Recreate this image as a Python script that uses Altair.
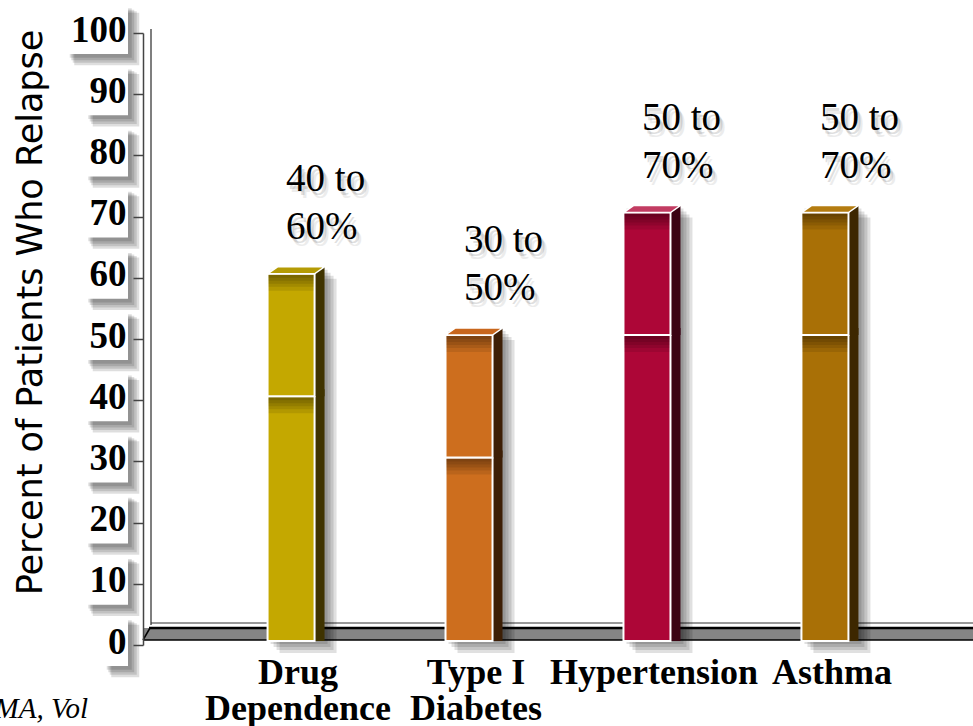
import altair as alt
import pandas as pd

# ---- data -------------------------------------------------------------
categories = ["Drug\nDependence", "Type I\nDiabetes", "Hypertension", "Asthma"]
relapse_low = [40, 30, 50, 50]
relapse_high = [60, 50, 70, 70]
axis_ticks = [0, 10, 20, 30, 40, 50, 60, 70, 80, 90, 100]

# ---- palette (front, side and top faces of each block) ----------------
front_colors = ["#C4A800", "#CD6E1E", "#AD0637", "#A97006"]
side_colors = ["#3F3300", "#3D1F06", "#3A0313", "#3D2700"]
top_colors = ["#B49B04", "#C8661C", "#C23C62", "#B47C10"]

W, H = 830, 612
BAR_W = 47
DEPTH_X, DEPTH_Y = 10, 7
LIFT = -4

bars = pd.DataFrame({"cat": categories, "low": relapse_low, "high": relapse_high})
ticks = pd.DataFrame({"v": axis_ticks})
blank = pd.DataFrame({"k": [0]})

x_scale = alt.Scale(domain=categories, paddingInner=0.736, paddingOuter=0.70)
y_scale = alt.Scale(domain=[0, 100], nice=False)

x_axis = alt.Axis(
    title=None, domain=False, ticks=False, labelAngle=0, labelLimit=0,
    labelFont="Liberation Serif", labelFontWeight="bold", labelFontSize=36,
    labelColor="black", labelPadding=10, labelOffset=7, labelLineHeight=36,
    labelExpr="split(datum.label, '\\n')",
)
y_axis = alt.Axis(
    title="Percent of Patients Who Relapse", values=axis_ticks, grid=False,
    domainColor="#444", domainWidth=1.5, tickColor="#444", tickWidth=1.5, tickSize=10,
    labelFont="Liberation Serif", labelFontWeight="bold", labelFontSize=37,
    labelColor="black", labelPadding=7, labelOffset=-3,
    titleFont="DejaVu Sans", titleFontSize=35, titleFontWeight="normal",
    titleColor="black", titleX=-102, titleY=279, titleAngle=270,
    titleAlign="center", titleBaseline="alphabetic", zindex=1,
)


def X():
    return alt.X("cat:N", scale=x_scale, axis=x_axis, sort=categories)


def Y(field):
    return alt.Y(f"{field}:Q", scale=y_scale, axis=y_axis)


def palette(colors):
    return alt.Color("cat:N", scale=alt.Scale(domain=categories, range=colors), legend=None)


layers = []

# ---- white boxes with soft drop shadows behind the y tick labels -------
for n in (1, 2, 3):
    w = 18.5 * n + 5
    cx = -15 - w / 2
    base = alt.Chart(ticks).transform_filter(f"length(toString(datum.v)) == {n}")
    for d in (3, 5, 7, 9):
        layers.append(base.mark_tick(orient="horizontal", thickness=48 + d / 2,
                                     color="black", opacity=0.13, yOffset=-3 + d).encode(
            x=alt.value(cx + d), y=Y("v"), size=alt.value(w + d / 2)))
    layers.append(base.mark_tick(orient="horizontal", thickness=48, color="white",
                                 opacity=1, yOffset=-3).encode(
        x=alt.value(cx), y=Y("v"), size=alt.value(w)))

# ---- back wall and floor ------------------------------------------------
deco = alt.Chart(blank)
layers += [
    deco.mark_rule(color="#555", strokeWidth=1.5).encode(
        x=alt.value(8), y=alt.value(-4), y2=alt.value(592)),
    deco.mark_rule(color="#333", strokeWidth=1).encode(
        x=alt.value(8), x2=alt.value(W), y=alt.value(590)),
    deco.mark_rect(color="#858585").encode(
        x=alt.value(0), x2=alt.value(W), y=alt.value(595), y2=alt.value(607)),
    deco.mark_rule(color="black", strokeWidth=2.5).encode(
        x=alt.value(6), x2=alt.value(W), y=alt.value(595)),
    deco.mark_rule(color="black", strokeWidth=1.5).encode(
        x=alt.value(0), x2=alt.value(W), y=alt.value(607)),
    deco.mark_rule(color="black", strokeWidth=1.5).encode(
        x=alt.value(0), x2=alt.value(7), y=alt.value(607), y2=alt.value(595)),
]

# ---- bars ---------------------------------------------------------------
bc = alt.Chart(bars)

# drop shadow of each full column
for d in (3, 6, 9, 12):
    layers.append(bc.mark_bar(width=BAR_W + DEPTH_X, xOffset=DEPTH_X / 2 + d,
                              yOffset=LIFT - DEPTH_Y + d, y2Offset=LIFT + d,
                              color="black", opacity=0.12).encode(
        x=X(), y=Y("high"), y2=alt.datum(0)))


def block(lo, hi):
    out = []
    # side face
    out.append(bc.mark_bar(width=DEPTH_X, xOffset=BAR_W / 2 + DEPTH_X / 2,
                           yOffset=LIFT - DEPTH_Y, y2Offset=LIFT).encode(
        x=X(), y=Y(hi), y2=(alt.datum(0) if lo is None else alt.Y2(f"{lo}:Q")),
        color=palette(side_colors)))
    # front face
    out.append(bc.mark_bar(width=BAR_W, yOffset=LIFT, y2Offset=LIFT,
                           stroke="white", strokeWidth=2).encode(
        x=X(), y=Y(hi), y2=(alt.datum(0) if lo is None else alt.Y2(f"{lo}:Q")),
        color=palette(front_colors)))
    # soft shading just under the block's top edge
    for t in (3, 6, 9, 12, 16):
        out.append(bc.mark_tick(orient="horizontal", thickness=t, color="black",
                                opacity=0.09, yOffset=LIFT + t / 2 + 1).encode(
            x=X(), y=Y(hi), size=alt.value(BAR_W - 2)))
    return out


layers += block(None, "low")
layers += block("low", "high")

# top face of each column
top_face = f"M -{BAR_W/2} 0 L {BAR_W/2} 0 L {BAR_W/2 + DEPTH_X} -{DEPTH_Y} L {-BAR_W/2 + DEPTH_X} -{DEPTH_Y} Z"
layers.append(bc.mark_point(shape=top_face, size=4, filled=True, opacity=1,
                            stroke="white", strokeWidth=1.5, yOffset=LIFT).encode(
    x=X(), y=Y("high"), color=palette(top_colors)))

# ---- range labels above the columns -------------------------------------
lab = bc.transform_calculate(label="datum.low + ' to\\n' + datum.high + '%'")
text_style = dict(font="Liberation Serif", fontSize=39, align="left", baseline="alphabetic",
                  lineBreak="\n", lineHeight=48)
TEXT_DY = -87
for dx, dy, op in ((3, 4, 0.12), (5, 7, 0.07)):
    layers.append(lab.mark_text(color="black", opacity=op, dx=-5 + dx, dy=TEXT_DY + dy,
                                **text_style).encode(x=X(), y=Y("high"), text="label:N"))
layers.append(lab.mark_text(color="black", dx=-5, dy=TEXT_DY, **text_style).encode(
    x=X(), y=Y("high"), text="label:N"))

# ---- source note at the lower left ---------------------------------------
layers.append(deco.mark_text(font="Liberation Serif", fontStyle="italic", fontSize=29,
                             align="right", baseline="alphabetic", color="black").encode(
    x=alt.value(-55), y=alt.value(685), text=alt.value("MA, Vol")))

chart = (
    alt.layer(*layers)
    .resolve_scale(color="independent")
    .properties(width=W, height=H, background="white",
                padding={"left": 143, "top": 33, "right": 0, "bottom": 81},
                autosize=alt.AutoSizeParams(type="none"))
    .configure_view(stroke=None)
)

chart.save("out.html", embed_options={"renderer": "svg", "actions": False})
